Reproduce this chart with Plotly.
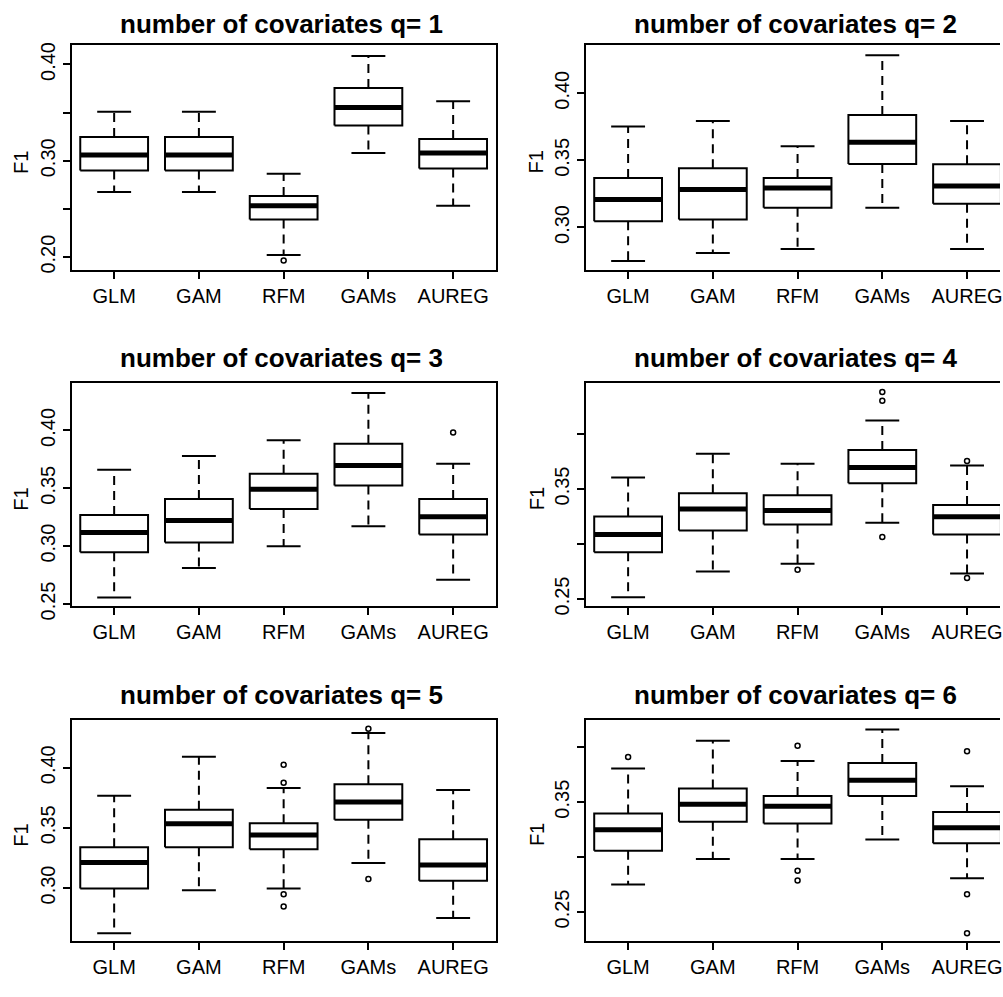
import plotly.graph_objects as go

categories = ["GLM", "GAM", "RFM", "GAMs", "AUREG"]
q_labels = [1, 2, 3, 4, 5, 6]

# q = 1
lo_1 = [0.2677, 0.2677, 0.2022, 0.3081, 0.2532]
q1_1 = [0.2898, 0.2898, 0.2389, 0.3367, 0.2919]
med_1 = [0.3060, 0.3060, 0.2532, 0.3553, 0.3081]
q3_1 = [0.3247, 0.3247, 0.2633, 0.3757, 0.3227]
hi_1 = [0.3510, 0.3510, 0.2864, 0.4087, 0.3618]
out_cat_1 = ["RFM"]
out_val_1 = [0.1964]

# q = 2
lo_2 = [0.2750, 0.2809, 0.2840, 0.3147, 0.2840]
q1_2 = [0.3046, 0.3059, 0.3147, 0.3473, 0.3176]
med_2 = [0.3208, 0.3282, 0.3294, 0.3635, 0.3309]
q3_2 = [0.3368, 0.3441, 0.3368, 0.3838, 0.3471]
hi_2 = [0.3752, 0.3794, 0.3605, 0.4284, 0.3794]
out_cat_2 = []
out_val_2 = []

# q = 3
lo_3 = [0.2557, 0.2811, 0.2998, 0.3171, 0.2710]
q1_3 = [0.2947, 0.3032, 0.3321, 0.3525, 0.3100]
med_3 = [0.3117, 0.3222, 0.3491, 0.3697, 0.3253]
q3_3 = [0.3270, 0.3408, 0.3626, 0.3884, 0.3408]
hi_3 = [0.3660, 0.3779, 0.3915, 0.4323, 0.3711]
out_cat_3 = ["AUREG"]
out_val_3 = [0.3983]

# q = 4
lo_4 = [0.2515, 0.2750, 0.2821, 0.3194, 0.2732]
q1_4 = [0.2926, 0.3122, 0.3176, 0.3551, 0.3087]
med_4 = [0.3087, 0.3319, 0.3304, 0.3694, 0.3247]
q3_4 = [0.3250, 0.3461, 0.3444, 0.3854, 0.3354]
hi_4 = [0.3604, 0.3821, 0.3729, 0.4122, 0.3714]
out_cat_4 = ["RFM", "GAMs", "GAMs", "GAMs", "AUREG", "AUREG"]
out_val_4 = [0.2765, 0.4381, 0.4301, 0.3063, 0.3753, 0.2690]

# q = 5
lo_5 = [0.2623, 0.2980, 0.2996, 0.3208, 0.2751]
q1_5 = [0.2996, 0.3339, 0.3323, 0.3568, 0.3061]
med_5 = [0.3212, 0.3535, 0.3440, 0.3715, 0.3192]
q3_5 = [0.3339, 0.3650, 0.3538, 0.3862, 0.3405]
hi_5 = [0.3767, 0.4091, 0.3832, 0.4290, 0.3816]
out_cat_5 = ["RFM", "RFM", "RFM", "RFM", "GAMs", "GAMs"]
out_val_5 = [0.4025, 0.3876, 0.2947, 0.2846, 0.4325, 0.3075]

# q = 6
lo_6 = [0.2750, 0.2982, 0.2982, 0.3161, 0.2807]
q1_6 = [0.3057, 0.3321, 0.3307, 0.3557, 0.3125]
med_6 = [0.3250, 0.3482, 0.3464, 0.3700, 0.3268]
q3_6 = [0.3396, 0.3625, 0.3557, 0.3857, 0.3411]
hi_6 = [0.3807, 0.4060, 0.3875, 0.4161, 0.3646]
out_cat_6 = ["GLM", "RFM", "RFM", "RFM", "AUREG", "AUREG", "AUREG"]
out_val_6 = [0.3911, 0.4015, 0.2875, 0.2786, 0.3964, 0.2661, 0.2307]

# y tick values / labels per panel
ytick_vals = [
    [0.20, 0.25, 0.30, 0.35, 0.40],
    [0.30, 0.35, 0.40],
    [0.25, 0.30, 0.35, 0.40],
    [0.25, 0.30, 0.35, 0.40],
    [0.30, 0.35, 0.40],
    [0.25, 0.30, 0.35, 0.40],
]
ytick_text = [
    ["0.20", "", "0.30", "", "0.40"],
    ["0.30", "0.35", "0.40"],
    ["0.25", "0.30", "0.35", "0.40"],
    ["0.25", "", "0.35", ""],
    ["0.30", "0.35", "0.40"],
    ["0.25", "", "0.35", ""],
]

panels = [
    (lo_1, q1_1, med_1, q3_1, hi_1, out_cat_1, out_val_1),
    (lo_2, q1_2, med_2, q3_2, hi_2, out_cat_2, out_val_2),
    (lo_3, q1_3, med_3, q3_3, hi_3, out_cat_3, out_val_3),
    (lo_4, q1_4, med_4, q3_4, hi_4, out_cat_4, out_val_4),
    (lo_5, q1_5, med_5, q3_5, hi_5, out_cat_5, out_val_5),
    (lo_6, q1_6, med_6, q3_6, hi_6, out_cat_6, out_val_6),
]

# ---- layout geometry (pixels) ----
W, H = 1003, 997
col_x = [(72, 497), (587.5, 1003)]
row_y = [(43, 271.5), (387.3, 613.7), (730, 955.7)]
y_ranges = [
    [0.187, 0.420],
    [0.2686, 0.4358],
    [0.2486, 0.4407],
    [0.2440, 0.4460],
    [0.2555, 0.4399],
    [0.2232, 0.4250],
]
x_ranges = [[0.5, 5.5], [0.5, 5.389]]
title_x = [282, 798]
title_base = [30, 371, 714]
f1_x = [21, 538]
f1_y = [162, 505, 847]


def px(x):
    return x / W


def py(y):
    return 1 - y / H


FONT = "Liberation Sans, Arial, sans-serif"
BW = 0.4   # box half width
CW = 0.2   # staple half width

fig = go.Figure()
layout = dict(
    width=W, height=H,
    margin=dict(l=0, r=0, t=0, b=0),
    paper_bgcolor="white", plot_bgcolor="white",
    showlegend=False,
    annotations=[],
)

pos = {c: i + 1 for i, c in enumerate(categories)}

for k, (lo, q1, med, q3, hi, oc, ov) in enumerate(panels):
    r, c = divmod(k, 2)
    n = k + 1
    xa = "x" if n == 1 else f"x{n}"
    ya = "y" if n == 1 else f"y{n}"

    bx, by, mx, my, wx, wy, sx, sy = [], [], [], [], [], [], [], []
    for i, cat in enumerate(categories):
        p = pos[cat]
        bx += [p - BW, p + BW, p + BW, p - BW, p - BW, None]
        by += [q1[i], q1[i], q3[i], q3[i], q1[i], None]
        mx += [p - BW, p + BW, None]
        my += [med[i], med[i], None]
        wx += [p, p, None, p, p, None]
        wy += [q3[i], hi[i], None, q1[i], lo[i], None]
        sx += [p - CW, p + CW, None, p - CW, p + CW, None]
        sy += [hi[i], hi[i], None, lo[i], lo[i], None]

    common = dict(xaxis=xa, yaxis=ya, mode="lines", hoverinfo="skip", showlegend=False)
    fig.add_trace(go.Scatter(x=wx, y=wy, line=dict(color="black", width=2, dash="9px,6px"), **common))
    fig.add_trace(go.Scatter(x=sx, y=sy, line=dict(color="black", width=2), **common))
    fig.add_trace(go.Scatter(x=bx, y=by, fill="toself", fillcolor="white",
                             line=dict(color="black", width=2), **common))
    fig.add_trace(go.Scatter(x=mx, y=my, line=dict(color="black", width=5), **common))
    if ov:
        fig.add_trace(go.Scatter(
            x=[pos[cc] for cc in oc], y=ov, xaxis=xa, yaxis=ya, mode="markers",
            marker=dict(symbol="circle-open", size=5, color="black", line=dict(width=1.5)),
            hoverinfo="skip", showlegend=False))

    x0, x1 = col_x[c]
    y0, y1 = row_y[r]
    layout["xaxis" if n == 1 else f"xaxis{n}"] = dict(
        domain=[px(x0), px(x1)], anchor=ya, range=x_ranges[c],
        tickmode="array", tickvals=[pos[cc] for cc in categories], ticktext=categories,
        ticks="outside", ticklen=7, tickwidth=2, tickcolor="black",
        showline=True, linewidth=2, linecolor="black", mirror=True,
        showgrid=False, zeroline=False, fixedrange=True,
        ticklabeloverflow="allow",
        tickfont=dict(family=FONT, size=20, color="black"),
    )
    layout["yaxis" if n == 1 else f"yaxis{n}"] = dict(
        domain=[py(y1), py(y0)], anchor=xa, range=y_ranges[k],
        tickmode="array", tickvals=ytick_vals[k], ticktext=ytick_text[k],
        ticks="outside", ticklen=7, tickwidth=2, tickcolor="black",
        showline=True, linewidth=2, linecolor="black", mirror=(c == 0),
        showgrid=False, zeroline=False, fixedrange=True, tickangle=-90,
        tickfont=dict(family=FONT, size=20, color="black"),
    )
    layout["annotations"].append(dict(
        text=f"<b>number of covariates q= {q_labels[k]}</b>",
        xref="paper", yref="paper", x=px(title_x[c]), y=py(title_base[r] - 9),
        xanchor="center", yanchor="middle", showarrow=False,
        font=dict(family=FONT, size=26, color="black"),
    ))
    layout["annotations"].append(dict(
        text="F1", textangle=-90,
        xref="paper", yref="paper", x=px(f1_x[c]), y=py(f1_y[r]),
        xanchor="center", yanchor="middle", showarrow=False,
        font=dict(family=FONT, size=20, color="black"),
    ))

fig.update_layout(**layout)
fig.write_html("out.html")
